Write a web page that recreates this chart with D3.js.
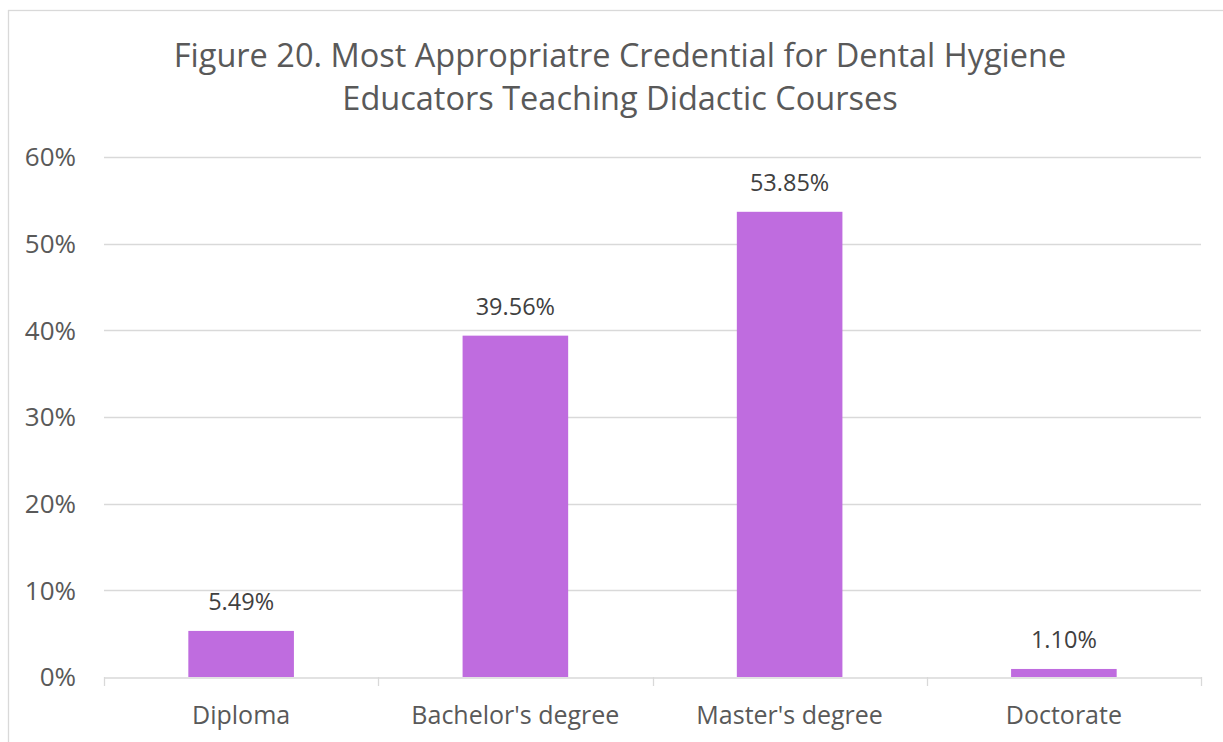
<!DOCTYPE html>
<html><head><meta charset="utf-8">
<script src="https://cdn.jsdelivr.net/npm/d3@7"></script>
<style>body{margin:0;background:#fff}svg{display:block}text{font-family:"Open Sans",sans-serif}</style>
</head><body>
<svg id="c" width="1223" height="742"></svg>
<script>
const categories = ["Diploma", "Bachelor's degree", "Master's degree", "Doctorate"];
const values = [0.0549, 0.3956, 0.5385, 0.0110];
const valueLabels = ["5.49%", "39.56%", "53.85%", "1.10%"];
const yTicks = [0, 0.1, 0.2, 0.3, 0.4, 0.5, 0.6];
const titleLines = ["Figure 20. Most Appropriatre Credential for Dental Hygiene", "Educators Teaching Didactic Courses"];

(function(){
const svg = d3.select("#c");
svg.append("rect").attr("x",8.5).attr("y",10.5).attr("width",1240).attr("height",760)
  .attr("fill","#fff").attr("stroke","#d9d9d9").attr("stroke-width",1.3);

const pL=104, pR=1201, pT=157, pB=677;
const x = d3.scaleBand().domain(categories).range([pL,pR]).paddingInner(0.615).paddingOuter(0.3075);
const slot = d3.scaleBand().domain(categories).range([pL,pR]).padding(0);
const y = d3.scaleLinear().domain([0,0.6]).range([pB,pT]);

svg.append("g").selectAll("line").data(yTicks.filter(d=>d>0)).join("line")
  .attr("x1",pL).attr("x2",pR).attr("y1",d=>Math.round(y(d))+0.5).attr("y2",d=>Math.round(y(d))+0.5)
  .attr("stroke","#d9d9d9").attr("stroke-width",1.3);

svg.append("g").selectAll("text").data(yTicks).join("text")
  .attr("x",76).attr("y",d=>y(d)).attr("dy","0.36em").attr("text-anchor","end")
  .attr("fill","#595959").attr("font-size",26).text(d3.format(".0%"));

svg.append("g").selectAll("rect").data(values).join("rect")
  .attr("x",(d,i)=>x(categories[i])).attr("width",x.bandwidth())
  .attr("y",d=>y(d)+1.5).attr("height",d=>pB-y(d)-1.5).attr("fill","#bf6cdf");

const xa = svg.append("g").attr("transform",`translate(0,${Math.round(pB)+0.5})`)
  .call(d3.axisBottom(slot).tickValues([]).tickSizeOuter(0));
xa.select(".domain").attr("stroke","#d9d9d9").attr("stroke-width",1.3);
const bounds = categories.map(c=>slot(c)).concat([pR]);
svg.append("g").selectAll("line").data(bounds).join("line")
  .attr("x1",d=>Math.round(d)+0.5).attr("x2",d=>Math.round(d)+0.5).attr("y1",pB).attr("y2",pB+9)
  .attr("stroke","#d9d9d9").attr("stroke-width",1.3);
svg.append("g").selectAll("text").data(categories).join("text")
  .attr("x",d=>slot(d)+slot.bandwidth()/2).attr("y",724).attr("text-anchor","middle")
  .attr("fill","#595959").attr("font-size",25).text(d=>d);

svg.append("g").selectAll("text").data(values).join("text")
  .attr("x",(d,i)=>x(categories[i])+x.bandwidth()/2).attr("y",d=>y(d)-19).attr("text-anchor","middle")
  .attr("fill","#404040").attr("font-size",23.5).text((d,i)=>valueLabels[i]);

svg.append("g").selectAll("text").data(titleLines).join("text")
  .attr("x",620).attr("y",(d,i)=>67+i*43).attr("text-anchor","middle")
  .attr("fill","#595959").attr("font-size",32.5).text(d=>d);
})();
</script>
</body></html>
